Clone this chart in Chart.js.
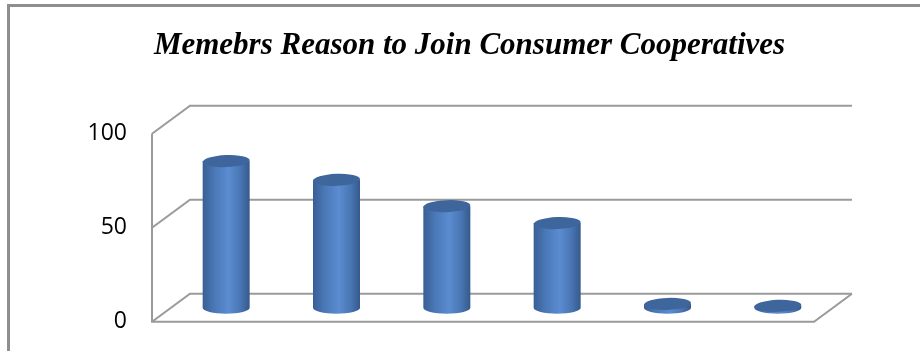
<!DOCTYPE html>
<html>
<head>
<meta charset="utf-8">
<script src="https://cdn.jsdelivr.net/npm/chart.js@4.4.1/dist/chart.umd.min.js"></script>
<style>
    html, body { margin: 0; padding: 0; background: #fff; overflow: hidden; }
    .moldura { position: absolute; left: 7px; top: 4px; width: 1000px; height: 500px;
        border-left: 3px solid #8e8e8e; border-top: 3px solid #8e8e8e; }
    .area { position: absolute; left: 0; top: 0; width: 920px; height: 351px; }
</style>
</head>
<body>
<div class="moldura"></div>
<div class="area"><canvas id="grafico"></canvas></div>
<script>
const titulo = 'Memebrs Reason to Join Consumer Cooperatives';
const categorias = ['Reason 1', 'Reason 2', 'Reason 3', 'Reason 4', 'Reason 5', 'Reason 6'];
const valores = [78, 68, 54, 45, 2, 1];
const yTicks = [0, 50, 100];

// deslocamento da parede do fundo (perspectiva obliqua)
const profundidade = { dx: 38, dy: -28 };

const paredes3d = {
    id: 'paredes3d',
    beforeDatasetsDraw(chart) {
        const { ctx, chartArea: a, scales: { y } } = chart;
        const { dx, dy } = profundidade;
        const y0 = y.getPixelForValue(0);
        ctx.save();
        ctx.strokeStyle = '#9a9a9a';
        ctx.lineWidth = 2;
        ctx.beginPath();
        yTicks.forEach(v => {
            const py = y.getPixelForValue(v);
            ctx.moveTo(a.left, py);
            ctx.lineTo(a.left + dx, py + dy);
            ctx.lineTo(a.right + dx, py + dy);
        });
        ctx.moveTo(a.left, y.getPixelForValue(yTicks[yTicks.length - 1]));
        ctx.lineTo(a.left, y0);
        ctx.lineTo(a.right, y0);
        ctx.lineTo(a.right + dx, y0 + dy);
        ctx.stroke();
        ctx.restore();
    }
};

const cilindros = {
    id: 'cilindros',
    afterDatasetsDraw(chart) {
        const { ctx } = chart;
        const ox = profundidade.dx / 2, oy = profundidade.dy / 2;
        const ry = 6;
        chart.getDatasetMeta(0).data.forEach(bar => {
            const cx = bar.x + ox;
            const topo = bar.y + oy;
            const base = bar.base + oy;
            const rx = bar.width / 2;

            const grad = ctx.createLinearGradient(cx - rx, 0, cx + rx, 0);
            grad.addColorStop(0, '#395e94');
            grad.addColorStop(0.25, '#4a78b7');
            grad.addColorStop(0.55, '#5b8cd1');
            grad.addColorStop(0.8, '#4976b4');
            grad.addColorStop(1, '#35598c');

            ctx.save();
            ctx.fillStyle = grad;
            ctx.beginPath();
            ctx.moveTo(cx - rx, topo);
            ctx.lineTo(cx - rx, base);
            ctx.ellipse(cx, base, rx, ry, 0, Math.PI, 0, true);
            ctx.lineTo(cx + rx, topo);
            ctx.closePath();
            ctx.fill();

            ctx.fillStyle = '#3e669d';
            ctx.beginPath();
            ctx.ellipse(cx, topo, rx, ry, -0.04, 0, Math.PI * 2);
            ctx.fill();
            ctx.restore();
        });
    }
};

new Chart(document.getElementById('grafico'), {
    type: 'bar',
    data: {
        labels: categorias,
        datasets: [{
            data: valores,
            backgroundColor: 'rgba(0,0,0,0)',
            barPercentage: 0.426,
            categoryPercentage: 1
        }]
    },
    options: {
        responsive: true, maintainAspectRatio: false, animation: false,
        layout: { padding: { left: 19, right: 0, top: 0, bottom: 0 } },
        plugins: {
            legend: { display: false },
            tooltip: { enabled: false },
            title: {
                display: true, text: titulo, color: '#000',
                font: { family: 'Liberation Serif', size: 31, style: 'italic', weight: 'bold', lineHeight: 1.2 },
                padding: { top: 27, bottom: 69.5 }
            }
        },
        scales: {
            x: {
                offset: true,
                afterFit(scale) { scale.height = 29.3; },
                grid: { display: false, drawTicks: false },
                border: { display: false },
                ticks: { display: false }
            },
            y: {
                min: 0, max: 100,
                afterFit(scale) { scale.width = 133; },
                grid: { display: false, drawTicks: true, tickLength: 25 },
                border: { display: false },
                ticks: { stepSize: 50, padding: 0, color: '#000', font: { family: 'Open Sans', size: 23 } }
            },
            y2: {
                position: 'right', min: 0, max: 100,
                afterFit(scale) { scale.width = 106; },
                grid: { display: false, drawTicks: false },
                border: { display: false },
                ticks: { display: false }
            }
        }
    },
    plugins: [paredes3d, cilindros]
});
</script>
</body>
</html>
